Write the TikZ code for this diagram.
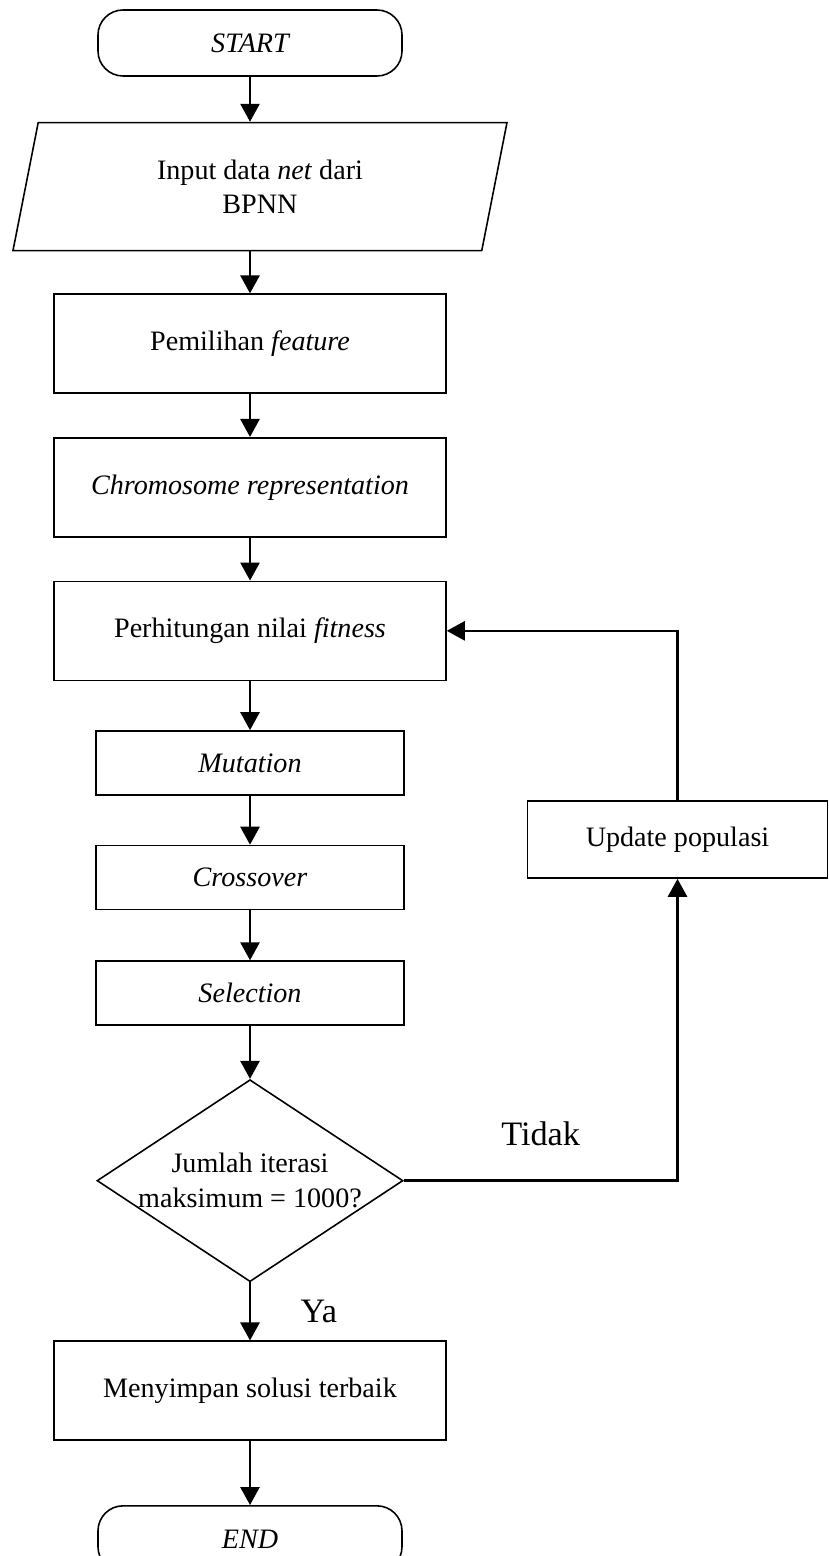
\documentclass[tikz,border=0pt]{standalone}
\usepackage{fontspec}
\setmainfont{Liberation Serif}
\usetikzlibrary{shapes.geometric,arrows.meta,positioning}

\begin{document}
\begin{tikzpicture}[node distance=0.9cm, auto, >={Triangle[width=0.38cm,length=0.36cm]}]
    % Define styles
    \tikzstyle{terminal} = [rectangle, draw, rounded corners=0.5cm, minimum width=6.08cm, minimum height=1.32cm, font=\fontsize{16}{19}\selectfont\itshape, line width=0.9pt]
    \tikzstyle{io} = [trapezium, draw, trapezium left angle=68.7, trapezium right angle=111.3, trapezium stretches body, minimum width=9.88cm, minimum height=2.56cm, align=center, font=\fontsize{16}{19}\selectfont, line width=0.9pt]
    \tikzstyle{process} = [rectangle, draw, minimum width=7.84cm, minimum height=1.98cm, align=center, font=\fontsize{16}{19}\selectfont, line width=0.9pt]
    \tikzstyle{subprocess} = [process, minimum width=6.16cm, minimum height=1.28cm]
    \tikzstyle{decision} = [diamond, draw, aspect=1.5, minimum width=6.12cm, minimum height=4.04cm, inner sep=-4pt, align=center, font=\fontsize{16}{20}\selectfont, line width=0.9pt]
    \tikzstyle{line} = [draw, ->, line width=1.5pt]
    \tikzstyle{answer} = [font=\fontsize{19.5}{23}\selectfont]

    \useasboundingbox (0,0) rectangle (16.58,-31.12);

    % Nodes
    \node [terminal] (start) at (5.0,-0.86) {START};
    \node [io, below=0.9cm of start, xshift=0.2cm] (input) {Input data \textit{net} dari\\BPNN};
    \node [process, below=0.84cm of input, xshift=-0.2cm] (feature) {Pemilihan \textit{feature}};
    \node [process, below=0.86cm of feature] (chromo) {\textit{Chromosome representation}};
    \node [process, below=0.86cm of chromo] (fitness) {Perhitungan nilai \textit{fitness}};
    \node [subprocess, below=0.98cm of fitness] (mutation) {\textit{Mutation}};
    \node [subprocess, below=0.98cm of mutation] (crossover) {\textit{Crossover}};
    \node [subprocess, below=1.0cm of crossover] (selection) {\textit{Selection}};
    \node [decision, below=1.06cm of selection] (check) {Jumlah iterasi\\maksimum = 1000?};
    \node [process, below=1.16cm of check] (best) {Menyimpan solusi terbaik};
    \node [terminal, below=1.28cm of best] (stop) {END};
    \node [subprocess, minimum width=6.0cm, minimum height=1.54cm] (update) at (13.55,-16.79) {Update populasi};

    % Arrows
    \draw [line] (start.south) -- (start.south |- input.north);
    \draw [line] (input.south -| feature.north) -- (feature);
    \draw [line] (feature) -- (chromo);
    \draw [line] (chromo) -- (fitness);
    \draw [line] (fitness) -- (mutation);
    \draw [line] (mutation) -- (crossover);
    \draw [line] (crossover) -- (selection);
    \draw [line] (selection) -- (check);
    \draw [line] (check) -- node [answer, right=0.87cm] {Ya} (best);
    \draw [line] (best) -- (stop);
    \draw [line] (check.east) -| node [answer, above=0.55cm, pos=0.25] {Tidak} (update.south);
    \draw [line] (update.north) |- (fitness.east);
\end{tikzpicture}
\end{document}
